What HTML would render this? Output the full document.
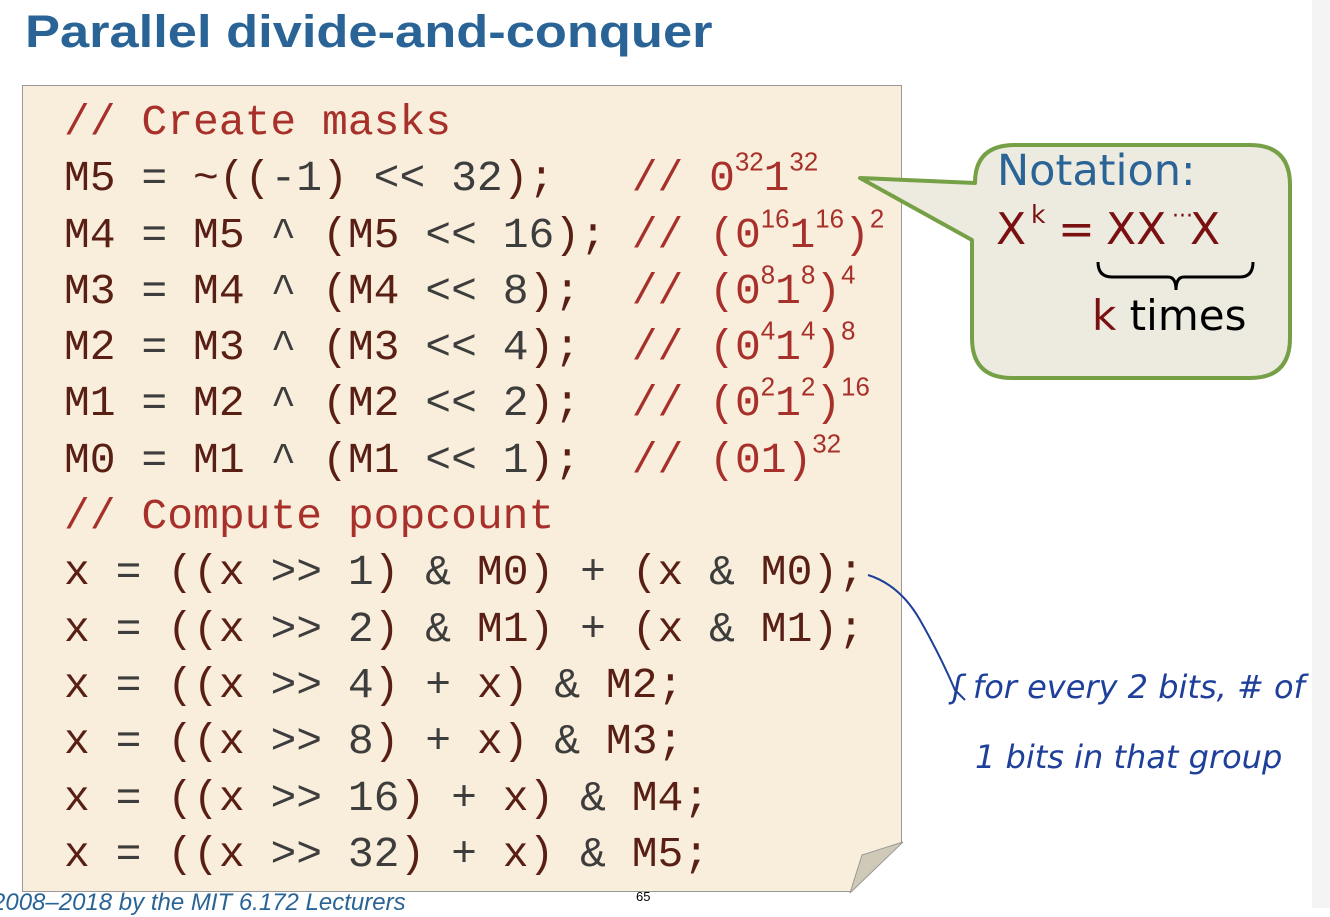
<!DOCTYPE html>
<html><head><meta charset="utf-8"><style>
body{margin:0;width:1330px;height:908px;overflow:hidden;background:#fff;position:relative;font-family:"Liberation Sans",sans-serif}
.t{position:absolute;left:25px;top:6px;font-size:45px;font-weight:bold;color:#2a6496;transform:scaleX(1.165);transform-origin:left;white-space:nowrap}
.box{position:absolute;left:22px;top:85px;width:880px;height:807px;background:#f8eedb;border:1px solid #999;box-sizing:border-box}
pre{position:absolute;left:64px;top:95px;margin:0;font-family:"Liberation Mono",monospace;font-size:43px;line-height:56.3px;color:#5a1f14}
.c{color:#a8302a}.n{color:#3d3d3d}
sup{font-size:0.6em;line-height:0;vertical-align:0.75em;font-family:"Liberation Sans",sans-serif}
.hw{position:absolute;color:#1e3f9a;font-family:"DejaVu Sans",sans-serif;font-style:italic;font-size:32px;font-weight:200;white-space:nowrap}
.d{position:absolute;font-family:"DejaVu Sans",sans-serif;white-space:nowrap}
</style></head><body>
<div class="t">Parallel divide-and-conquer</div>
<div class="box"></div>
<svg style="position:absolute;left:0;top:0" width="1330" height="908">
<polygon points="850,893 903,893 903,842" fill="#fff"/>
<polygon points="850,893 862,855 903,842" fill="#cfc9b8" stroke="#999" stroke-width="1"/>
<rect x="1312" y="0" width="18" height="908" fill="#f4f4f4"/>
<path d="M860,178 L975,183 Q975,145 1015,145 L1250,145 Q1290,145 1290,185 L1290,338 Q1290,378 1250,378 L1012,378 Q972,378 972,338 L972,240 Z" fill="#edeae0" stroke="#76a046" stroke-width="4" stroke-linejoin="round"/>
<path d="M1098,262 Q1098,277 1112,277 L1168,277 Q1176,277 1176,290 Q1176,277 1184,277 L1240,277 Q1253,277 1253,262" fill="none" stroke="#000" stroke-width="3"/>
<path d="M868,575 Q900,585 920,620 T955,690 L965,700" fill="none" stroke="#1e3f9a" stroke-width="2"/>
</svg>
<pre><span class="c">// Create masks</span>
M5 <span class="n">=</span> ~((<span class="n">-1</span>) <span class="n">&lt;&lt; 32</span>);   <span class="c">// 0<sup>32</sup>1<sup>32</sup></span>
M4 <span class="n">=</span> M5 <span class="n">^</span> (M5 <span class="n">&lt;&lt; 16</span>); <span class="c">// (0<sup>16</sup>1<sup>16</sup>)<sup>2</sup></span>
M3 <span class="n">=</span> M4 <span class="n">^</span> (M4 <span class="n">&lt;&lt; 8</span>);  <span class="c">// (0<sup>8</sup>1<sup>8</sup>)<sup>4</sup></span>
M2 <span class="n">=</span> M3 <span class="n">^</span> (M3 <span class="n">&lt;&lt; 4</span>);  <span class="c">// (0<sup>4</sup>1<sup>4</sup>)<sup>8</sup></span>
M1 <span class="n">=</span> M2 <span class="n">^</span> (M2 <span class="n">&lt;&lt; 2</span>);  <span class="c">// (0<sup>2</sup>1<sup>2</sup>)<sup>16</sup></span>
M0 <span class="n">=</span> M1 <span class="n">^</span> (M1 <span class="n">&lt;&lt; 1</span>);  <span class="c">// (01)<sup>32</sup></span>
<span class="c">// Compute popcount</span>
x <span class="n">=</span> ((x <span class="n">&gt;&gt; 1</span>) <span class="n">&amp;</span> M0) <span class="n">+</span> (x <span class="n">&amp;</span> M0);
x <span class="n">=</span> ((x <span class="n">&gt;&gt; 2</span>) <span class="n">&amp;</span> M1) <span class="n">+</span> (x <span class="n">&amp;</span> M1);
x <span class="n">=</span> ((x <span class="n">&gt;&gt; 4</span>) <span class="n">+</span> x) <span class="n">&amp;</span> M2;
x <span class="n">=</span> ((x <span class="n">&gt;&gt; 8</span>) <span class="n">+</span> x) <span class="n">&amp;</span> M3;
x <span class="n">=</span> ((x <span class="n">&gt;&gt; 16</span>) <span class="n">+</span> x) <span class="n">&amp;</span> M4;
x <span class="n">=</span> ((x <span class="n">&gt;&gt; 32</span>) <span class="n">+</span> x) <span class="n">&amp;</span> M5;</pre>
<div class="d" style="left:997px;top:146px;font-size:43px;color:#2a6496">Notation:</div>
<div class="d" style="left:996px;top:204px;font-size:44px;color:#7a1010">X</div>
<div class="d" style="left:1031px;top:200px;font-size:25px;color:#7a1010">k</div>
<div class="d" style="left:1058px;top:204px;font-size:44px;color:#7a1010">=</div>
<div class="d" style="left:1106px;top:204px;font-size:44px;color:#7a1010">XX</div>
<div class="d" style="left:1172px;top:204px;font-size:22px;color:#7a1010">···</div>
<div class="d" style="left:1190px;top:204px;font-size:44px;color:#7a1010">X</div>
<div class="d" style="left:1092px;top:291px;font-size:42px;color:#000"><span style="color:#7a1010">k</span> times</div>
<div class="hw" style="left:952px;top:668px">ʃ for every 2 bits, # of</div>
<div class="hw" style="left:975px;top:738px">1 bits in that group</div>
<div style="position:absolute;left:-8px;top:889px;font-size:24px;font-style:italic;color:#2a6496;white-space:nowrap">2008–2018 by the MIT 6.172 Lecturers</div>
<div style="position:absolute;left:636px;top:889px;font-size:13px;color:#000">65</div>
</body></html>
